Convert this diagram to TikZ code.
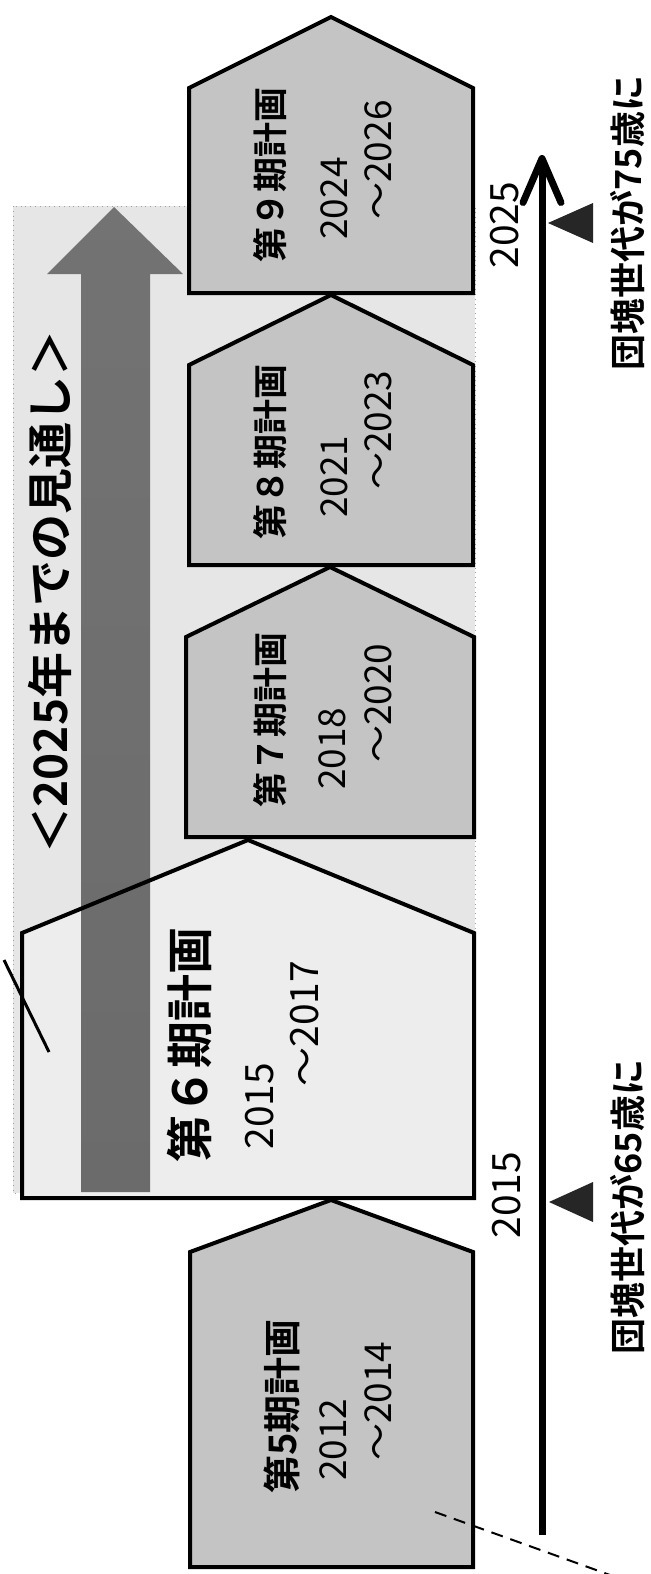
\documentclass[tikz,border=0pt]{standalone}
\usepackage{fontspec}
\newfontfamily\jpfont{Noto Sans CJK JP}[BoldFont={Noto Sans CJK JP Bold}]
\usetikzlibrary{arrows.meta}

\definecolor{planfill}{HTML}{C4C4C4}
\definecolor{boxfill}{HTML}{E6E6E6}
\definecolor{nowfill}{HTML}{EDEDED}

\begin{document}
\begin{tikzpicture}[x=0.5pt, y=-0.5pt,
    plan/.style={draw=black, line width=2pt, line join=miter, fill=planfill},
    ttl/.style={font=\jpfont\bfseries\fontsize{17.5pt}{18pt}\selectfont, inner sep=0pt, anchor=west, rotate=90},
    yr/.style={font=\jpfont\fontsize{18.5pt}{19pt}\selectfont, inner sep=0pt, anchor=west, rotate=90},
    lbl/.style={font=\jpfont\bfseries\fontsize{18pt}{19pt}\selectfont, inner sep=0pt, rotate=90},
    tick/.style={font=\jpfont\fontsize{19.5pt}{20pt}\selectfont, inner sep=0pt, rotate=90},
    tri/.style={fill=black!85}]
	\fill[white] (0,0) rectangle (651,1574);
	\useasboundingbox (0,0) rectangle (651,1574);

	% outlook box and big arrow
	\draw[boxfill!70!black, dotted, fill=boxfill] (13,206) rectangle (475,1193);
	\fill[nowfill] (22,1198) -- (22,933) -- (248,840) -- (474,933) -- (474,1198) -- cycle;
	\shade[top color=black!55, middle color=black!38, bottom color=black!58]
		(81,1192) -- (81,274) -- (47,274) -- (114,207) -- (183,274) -- (150,274) -- (150,1192) -- cycle;
	\draw[line width=2pt, line join=miter] (22,1198) -- (22,933) -- (248,840) -- (474,933) -- (474,1198) -- cycle;
	\coordinate (slA) at (4,960);
	\coordinate (slB) at (49,1052);
	\draw[line width=1.5pt] (slA) -- (slB);
	\node[font=\jpfont\bfseries\fontsize{23pt}{24pt}\selectfont, inner sep=0pt, rotate=90] (outlook) at (50,592) {＜2025年までの見通し＞};

	% plan periods
	\draw[plan] (189,293) -- (189,88) -- (331,17) -- (473,88) -- (473,293) -- cycle;
	\draw[plan] (189,565) -- (189,365) -- (331,295) -- (473,365) -- (473,565) -- cycle;
	\draw[plan] (186,837) -- (186,637) -- (330,567) -- (474,637) -- (474,837) -- cycle;
	\draw[plan] (190,1567) -- (190,1252) -- (331,1200) -- (473,1252) -- (473,1567) -- cycle;

	\node[ttl] (p9) at (270,263) {第９期計画};
	\node[yr] (p9a) at (334,240) {2024};
	\node[yr] (p9b) at (378,220) {～2026};
	\node[ttl] (p8) at (270,540) {第８期計画};
	\node[yr] (p8a) at (334,518) {2021};
	\node[yr] (p8b) at (378,490) {～2023};
	\node[ttl] (p7) at (270,808) {第７期計画};
	\node[yr] (p7a) at (332,790) {2018};
	\node[yr] (p7b) at (378,763) {～2020};
	\node[ttl, font=\jpfont\bfseries\fontsize{23.5pt}{24pt}\selectfont] (p6) at (189,1163) {第６期計画};
	\node[yr, font=\jpfont\fontsize{19.5pt}{20pt}\selectfont] (p6a) at (260,1150) {2015};
	\node[yr, font=\jpfont\fontsize{19.5pt}{20pt}\selectfont] (p6b) at (305,1087) {～2017};
	\node[ttl, font=\jpfont\bfseries\fontsize{19pt}{20pt}\selectfont] (p5) at (282,1494) {第5期計画};
	\node[yr] (p5a) at (333,1481) {2012};
	\node[yr] (p5b) at (378,1461) {～2014};

	% time axis
	\coordinate (axisS) at (542,1535);
	\coordinate (axisE) at (542,155);
	\draw[line width=3.5pt, -{Straight Barb[length=22pt, width=19pt, round]}] (axisS) -- (axisE);
	\node[tick] (y2025) at (505,225) {2025};
	\node[tick] (y2015) at (507,1195) {2015};
	\fill[tri] (548,223) -- (593,203) -- (593,243) -- cycle;
	\fill[tri] (549,1202) -- (593,1182) -- (593,1222) -- cycle;
	\node[lbl] (age75) at (628,223) {団塊世代が75歳に};
	\node[lbl] (age65) at (628,1207) {団塊世代が65歳に};

	\coordinate (cutA) at (435,1512);
	\coordinate (cutB) at (610,1575);
	\draw[line width=1pt, dash pattern=on 6pt off 4pt] (cutA) -- (cutB);
\end{tikzpicture}
\end{document}
